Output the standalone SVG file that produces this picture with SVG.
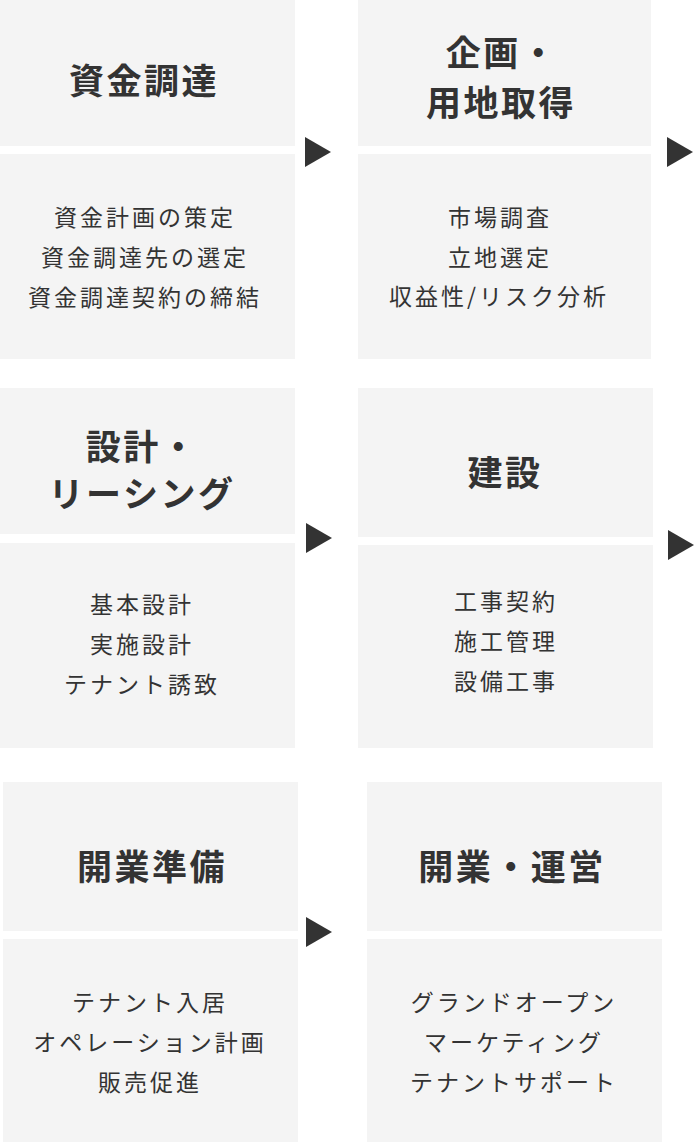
<svg xmlns="http://www.w3.org/2000/svg" xmlns:xlink="http://www.w3.org/1999/xlink" width="694" height="1143" viewBox="0 0 694 1143">
<style>
.box{fill:#f4f4f4}
.h{font-family:"Noto Sans CJK JP","Noto Sans",sans-serif;font-size:35px;font-weight:700;fill:#333;text-anchor:middle;letter-spacing:2.5px}
.b{font-family:"Noto Sans CJK JP","Noto Sans",sans-serif;font-size:23px;font-weight:400;fill:#333;text-anchor:middle;letter-spacing:3px}
.arr{fill:#333}
</style>
<defs>
<polygon id="tri" points="0,0 26,15 0,30"/>
</defs>
<rect width="694" height="1143" fill="#fff"/>
<g id="node-shikin">
<rect class="box" x="0" y="0" width="295" height="146"/>
<rect class="box" x="0" y="154" width="295" height="205"/>
<text class="h" x="144" y="94">資金調達</text>
<text class="b" x="145" y="226">資金計画の策定</text>
<text class="b" x="145" y="266">資金調達先の選定</text>
<text class="b" x="145" y="306">資金調達契約の締結</text>
</g>
<g id="node-kikaku">
<rect class="box" x="358" y="0" width="293" height="146"/>
<rect class="box" x="358" y="154" width="293" height="205"/>
<text class="h" x="502" y="66">企画・</text>
<text class="h" x="501" y="116">用地取得</text>
<text class="b" x="500" y="226">市場調査</text>
<text class="b" x="500" y="266">立地選定</text>
<text class="b" x="499" y="305">収益性/リスク分析</text>
</g>
<g id="node-sekkei">
<rect class="box" x="0" y="388" width="295" height="146"/>
<rect class="box" x="0" y="543" width="295" height="205"/>
<text class="h" x="142" y="460">設計・</text>
<text class="h" x="142" y="507">リーシング</text>
<text class="b" x="142" y="613">基本設計</text>
<text class="b" x="142" y="653">実施設計</text>
<text class="b" x="142" y="693">テナント誘致</text>
</g>
<g id="node-kensetsu">
<rect class="box" x="358" y="388" width="295" height="149"/>
<rect class="box" x="358" y="545" width="295" height="203"/>
<text class="h" x="505" y="486">建設</text>
<text class="b" x="506" y="610">工事契約</text>
<text class="b" x="506" y="650">施工管理</text>
<text class="b" x="506" y="690">設備工事</text>
</g>
<g id="node-kaigyo-junbi">
<rect class="box" x="3" y="782" width="295" height="149"/>
<rect class="box" x="3" y="939" width="295" height="203"/>
<text class="h" x="152" y="880">開業準備</text>
<text class="b" x="150" y="1011">テナント入居</text>
<text class="b" x="150" y="1051">オペレーション計画</text>
<text class="b" x="150" y="1091">販売促進</text>
</g>
<g id="node-kaigyo-unei">
<rect class="box" x="367" y="782" width="295" height="149"/>
<rect class="box" x="367" y="939" width="295" height="203"/>
<text class="h" x="512" y="880">開業・運営</text>
<text class="b" x="514" y="1011">グランドオープン</text>
<text class="b" x="514" y="1051">マーケティング</text>
<text class="b" x="514" y="1091">テナントサポート</text>
</g>
<g id="connectors" class="arr">
<use xlink:href="#tri" x="305" y="137"/>
<use xlink:href="#tri" x="667" y="137"/>
<use xlink:href="#tri" x="306" y="523"/>
<use xlink:href="#tri" x="668" y="530"/>
<use xlink:href="#tri" x="306" y="917"/>
</g>
</svg>
